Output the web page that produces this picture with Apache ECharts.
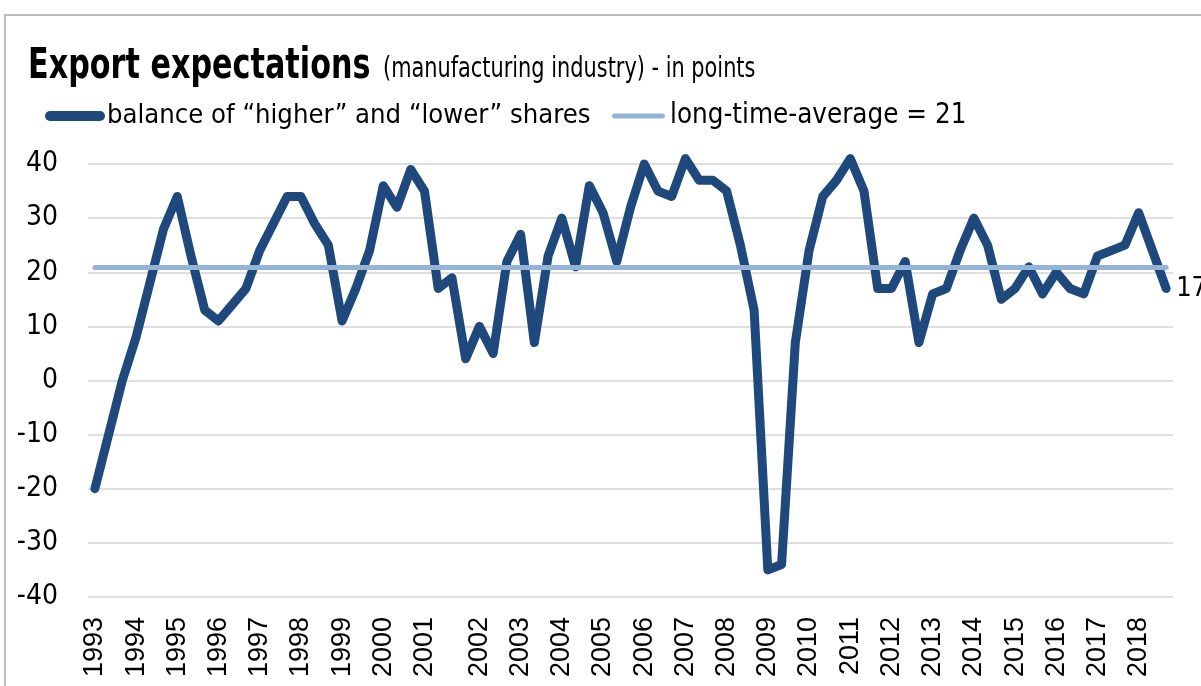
<!DOCTYPE html>
<html>
<head>
<meta charset="utf-8">
<script src="https://cdn.jsdelivr.net/npm/echarts@6/dist/echarts.min.js"></script>
<style>
html,body{margin:0;padding:0;background:#fff;}
#chart{width:1201px;height:686px;}
</style>
</head>
<body>
<div id="chart"></div>
<script>
// ---- data ----
const years = [1993,1994,1995,1996,1997,1998,1999,2000,2001,2002,2003,2004,2005,2006,2007,2008,2009,2010,2011,2012,2013,2014,2015,2016,2017,2018];
const surveysPerYear = [3,3,3,3,3,3,3,3,4,3,3,3,3,3,3,3,3,3,3,3,3,3,3,3,3,3];
const surveyNames = ['I','II','III','IV'];
const balance = [
  -20,-10,0,
  8,18,28,
  34,23,13,
  11,14,17,
  24,29,34,
  34,29,25,
  11,17,24,
  36,32,39,
  35,17,19,4,
  10,5,22,
  27,7,23,
  30,21,36,
  31,22,32,
  40,35,34,
  41,37,37,
  35,25,13,
  -35,-34,7,
  24,34,37,
  41,35,17,
  17,22,7,
  16,17,24,
  30,25,15,
  17,21,16,
  20,17,16,
  23,24,25,
  31,24,17
];
const longTimeAverage = 21;
const seriesNames = ['balance of \u201chigher\u201d and \u201clower\u201d shares', 'long-time-average = 21'];
const titleText = 'Export expectations';
const subtitleText = '(manufacturing industry) - in points';

// categories built from years / surveys
const categories = [];
years.forEach((y, k) => { for (let s = 0; s < surveysPerYear[k]; s++) categories.push(y + ' ' + surveyNames[s]); });

const DARK = '#1f497d';
const LIGHT = '#95b3d7';
const NARROW = "'Liberation Sans Narrow','DejaVu Sans Condensed','Arial Narrow',sans-serif";
const lastIdx = balance.length - 1;

const chart = echarts.init(document.getElementById('chart'), null, {renderer: 'canvas'});
chart.setOption({
  backgroundColor: '#fff',
  animation: false,
  graphic: [
    {type: 'rect', silent: true, z: -1,
     shape: {x: 5, y: 15, width: 1300, height: 800},
     style: {fill: 'none', stroke: '#bfbfbf', lineWidth: 2}},
    {type: 'text', silent: true, x: 28, y: 46, scaleX: 0.8,
     style: {text: titleText, fill: '#000', font: "bold 42px " + NARROW, verticalAlign: 'top', align: 'left'}},
    {type: 'text', silent: true, x: 383, y: 55, scaleX: 0.8,
     style: {text: subtitleText, fill: '#000', font: "normal 29px " + NARROW, verticalAlign: 'top', align: 'left'}}
  ],
  legend: [
    {data: [{name: seriesNames[0], itemStyle: {color: DARK}}], left: 45, top: 99, padding: 0,
     itemWidth: 60, itemHeight: 10, itemGap: 0,
     icon: 'path://M5,0H55A5,5,0,0,1,55,10H5A5,5,0,0,1,5,0Z',
     textStyle: {fontFamily: NARROW, fontSize: 27.2, lineHeight: 34, color: '#000', padding: [0,0,0,-3]}},
    {data: [{name: seriesNames[1], itemStyle: {color: LIGHT}}], left: 612, top: 99, padding: 0,
     itemWidth: 53, itemHeight: 5, itemGap: 0,
     icon: 'path://M2.5,0H50.5A2.5,2.5,0,0,1,50.5,5H2.5A2.5,2.5,0,0,1,2.5,0Z',
     textStyle: {fontFamily: NARROW, fontSize: 27.5, lineHeight: 34, color: '#000'}}
  ],
  grid: {left: 88, right: 28, top: 164, bottom: 89, containLabel: false},
  xAxis: {
    type: 'category', data: categories, boundaryGap: true,
    axisLine: {show: false}, axisTick: {show: false}, splitLine: {show: false},
    axisLabel: {
      interval: 0, rotate: 90, margin: 20, color: '#000', fontSize: 27,
      fontFamily: "'Liberation Sans',Arial,sans-serif",
      formatter: v => v.endsWith(' I') ? v.slice(0, 4) : ''
    }
  },
  yAxis: {
    type: 'value', min: -40, max: 40, interval: 10,
    axisLine: {show: false}, axisTick: {show: false},
    splitLine: {lineStyle: {color: '#d4d4d4', width: 1.5}},
    axisLabel: {margin: 30, color: '#000', fontSize: 28, fontFamily: NARROW}
  },
  series: [
    {
      name: seriesNames[0], type: 'line', data: balance,
      symbol: 'none', showSymbol: false, clip: false,
      itemStyle: {color: DARK},
      lineStyle: {color: DARK, width: 9, cap: 'round', join: 'round'},
      endLabel: {show: true, formatter: '{c}', distance: 10, color: '#000', fontSize: 27, fontFamily: NARROW},
      z: 2
    },
    {
      name: seriesNames[1], type: 'line', data: [],
      symbol: 'none', clip: false,
      itemStyle: {color: LIGHT},
      lineStyle: {color: LIGHT, width: 5},
      z: 3,
      markLine: {
        silent: true, symbol: ['none', 'none'], animation: false,
        label: {show: false},
        lineStyle: {color: LIGHT, width: 5, type: 'solid', cap: 'round'},
        emphasis: {disabled: true},
        data: [[{coord: [categories[0], longTimeAverage]}, {coord: [categories[lastIdx], longTimeAverage]}]]
      }
    }
  ]
});
</script>
</body>
</html>
